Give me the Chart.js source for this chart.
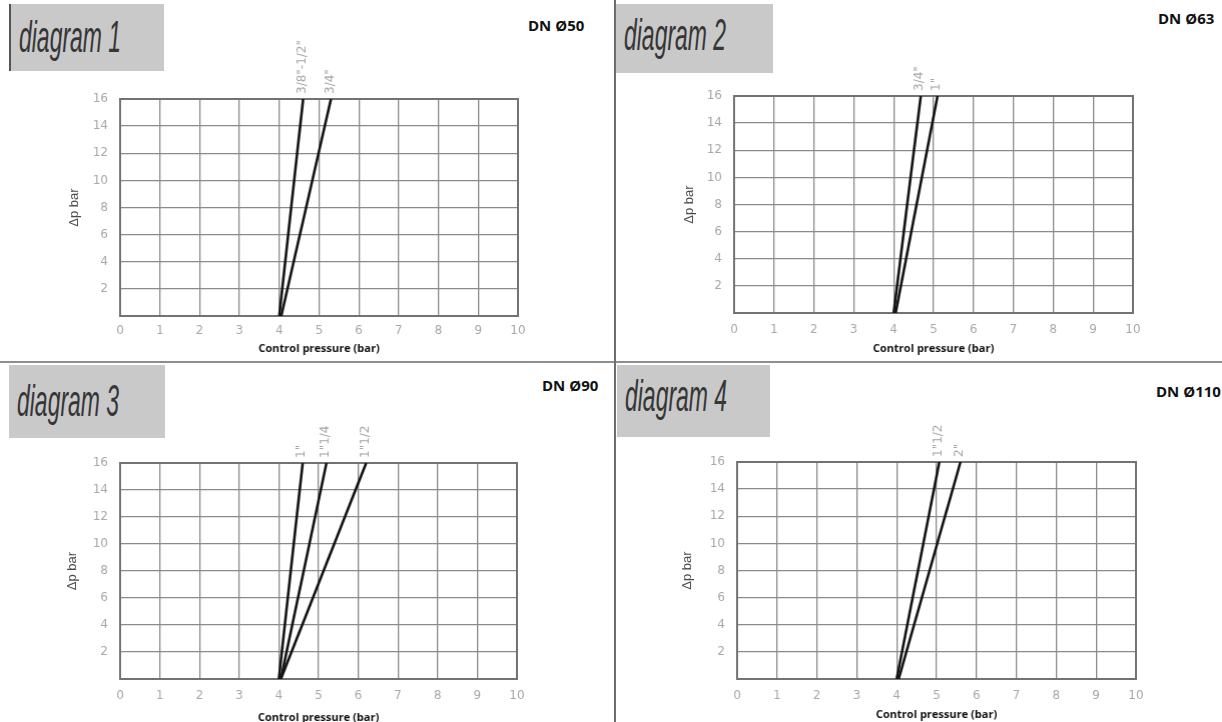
<!DOCTYPE html>
<html>
<head>
<meta charset="utf-8">
<script src="https://cdn.jsdelivr.net/npm/chart.js@4.4.0/dist/chart.umd.min.js"></script>
<style>
  body { margin: 0; width: 1222px; height: 722px; background: #fff; position: relative; overflow: hidden; }
  .box { position: absolute; background: #c9c9c9; overflow: hidden; }
  .box span { position: absolute; left: 8px; font: italic 45px/44px "Liberation Sans", sans-serif; color: #363636;
              transform: scaleX(0.51); transform-origin: left top; white-space: nowrap; }
  .dn { position: absolute; font: bold 15px/20px "Open Sans", sans-serif; color: #111; white-space: nowrap; }
  .plot { position: absolute; }
  .vline { position: absolute; left: 614px; top: 0; width: 2px; height: 722px; background: #6e6e6e; }
  .hline { position: absolute; left: 0; top: 361px; width: 1222px; height: 2px; background: #8e8e8e; }
</style>
</head>
<body>
<div class="hline"></div>
<div class="vline"></div>

<div class="box" style="left:9px;top:4px;width:153px;height:67px;border-left:2px solid #555"><span style="top:11px">diagram 1</span></div>
<div class="box" style="left:616px;top:4px;width:157px;height:69px"><span style="top:9px">diagram 2</span></div>
<div class="box" style="left:9px;top:365px;width:156px;height:73px"><span style="top:14px">diagram 3</span></div>
<div class="box" style="left:617px;top:365px;width:153px;height:72px"><span style="top:9px">diagram 4</span></div>

<div class="dn" style="left:528px;top:15px">DN Ø50</div>
<div class="dn" style="left:1158px;top:8px">DN Ø63</div>
<div class="dn" style="left:542px;top:375px">DN Ø90</div>
<div class="dn" style="left:1156px;top:381px">DN Ø110</div>

<div class="plot" id="p1"><canvas id="c1"></canvas></div>
<div class="plot" id="p2"><canvas id="c2"></canvas></div>
<div class="plot" id="p3"><canvas id="c3"></canvas></div>
<div class="plot" id="p4"><canvas id="c4"></canvas></div>

<script>
// axes
const xTicks = [0, 1, 2, 3, 4, 5, 6, 7, 8, 9, 10];
const yTicks = [2, 4, 6, 8, 10, 12, 14, 16];
const dpMin = 0;
const dpMax = 16;

// diagram 1 - DN 50
const d1Labels = ['3/8"-1/2"', '3/4"'];
const d1Start = [4.0, 4.05];
const d1End = [4.6, 5.3];

// diagram 2 - DN 63
const d2Labels = ['3/4"', '1"'];
const d2Start = [4.0, 4.05];
const d2End = [4.68, 5.1];

// diagram 3 - DN 90
const d3Labels = ['1"', '1"1/4', '1"1/2'];
const d3Start = [4.0, 4.05, 4.05];
const d3End = [4.6, 5.2, 6.2];

// diagram 4 - DN 110
const d4Labels = ['1"1/2', '2"'];
const d4Start = [4.0, 4.05];
const d4End = [5.07, 5.6];

// plot area in page pixels: left, top, right, bottom
const layoutBoxes = [
  { id: 'c1', area: [120, 99, 517, 316], yW: 53, xH: 39, xPad: 8, labels: d1Labels, start: d1Start, end: d1End },
  { id: 'c2', area: [734, 96, 1132, 313], yW: 52, xH: 42, xPad: 10, labels: d2Labels, start: d2Start, end: d2End },
  { id: 'c3', area: [120, 463, 516, 679], yW: 55, xH: 45, xPad: 10, labels: d3Labels, start: d3Start, end: d3End },
  { id: 'c4', area: [737, 462, 1135, 679], yW: 57, xH: 42, xPad: 10, labels: d4Labels, start: d4Start, end: d4End }
];

const PAD_TOP = 80, PAD_RIGHT = 14;

const frame = {
  id: 'frame',
  beforeDatasetsDraw(chart) {
    const a = chart.chartArea;
    const ctx = chart.ctx;
    ctx.save();
    ctx.strokeStyle = '#727272';
    ctx.lineWidth = 2;
    ctx.strokeRect(a.left, a.top, a.right - a.left, a.bottom - a.top);
    ctx.restore();
  }
};

const lineLabels = {
  id: 'lineLabels',
  afterDatasetsDraw(chart) {
    const { ctx, chartArea, scales } = chart;
    ctx.save();
    ctx.fillStyle = '#a4a4a4';
    ctx.font = '12px "DejaVu Sans"';
    ctx.textAlign = 'left';
    ctx.textBaseline = 'middle';
    chart.data.datasets.forEach(ds => {
      const last = ds.data[ds.data.length - 1];
      const x = scales.x.getPixelForValue(last.x);
      ctx.save();
      ctx.translate(x - 1, chartArea.top - 5);
      ctx.rotate(-Math.PI / 2);
      ctx.fillText(ds.label, 0, 0);
      ctx.restore();
    });
    ctx.restore();
  }
};

layoutBoxes.forEach(p => {
  const [l, t, r, b] = p.area;
  const wrap = document.getElementById(p.id).parentNode;
  let w = r - l + p.yW + PAD_RIGHT;
  let h = b - t + PAD_TOP + p.xH;
  wrap.style.left = (l - p.yW) + 'px';
  wrap.style.top = (t - PAD_TOP) + 'px';
  wrap.style.width = w + 'px';
  wrap.style.height = h + 'px';

  const datasets = p.labels.map((lab, i) => ({
    label: lab,
    data: [{ x: p.start[i], y: dpMin }, { x: p.end[i], y: dpMax }],
    borderColor: '#141414',
    borderWidth: 2.6,
    pointRadius: 0,
    fill: false
  }));

  const chart = new Chart(document.getElementById(p.id), {
    type: 'line',
    data: { datasets },
    options: {
      responsive: true,
      maintainAspectRatio: false,
      animation: false,
      layout: { padding: { top: PAD_TOP, right: PAD_RIGHT, left: 0, bottom: 0 } },
      plugins: { legend: { display: false }, tooltip: { enabled: false } },
      scales: {
        x: {
          type: 'linear',
          min: xTicks[0],
          max: xTicks[xTicks.length - 1],
          afterBuildTicks: s => { s.ticks = xTicks.map(v => ({ value: v })); },
          afterFit: s => { s.height = p.xH; },
          grid: { color: '#8a8a8a', lineWidth: 1.3, drawTicks: false },
          border: { display: false },
          ticks: { color: '#a8a8a8', padding: p.xPad, font: { family: 'DejaVu Sans', size: 12 }, maxRotation: 0, autoSkip: false },
          title: { display: true, text: 'Control pressure (bar)', color: '#111',
                   font: { family: 'Open Sans', size: 11, weight: 'bold' }, padding: { top: 0, bottom: 0 } }
        },
        y: {
          type: 'linear',
          min: dpMin,
          max: dpMax,
          afterBuildTicks: s => { s.ticks = yTicks.map(v => ({ value: v })); },
          afterFit: s => { s.width = p.yW; },
          grid: { color: '#8a8a8a', lineWidth: 1.3, drawTicks: false },
          border: { display: false },
          ticks: { color: '#a8a8a8', padding: 12, font: { family: 'DejaVu Sans', size: 12 } },
          title: { display: true, text: 'Δp bar', color: '#4a4a4a',
                   font: { family: 'Liberation Sans', size: 13 }, padding: { top: 0, bottom: 0 } }
        }
      }
    },
    plugins: [frame, lineLabels]
  });

  // nudge the container so the plot area lands on the reference position
  const ca = chart.chartArea;
  w += (r - l) - (ca.right - ca.left);
  h += (b - t) - (ca.bottom - ca.top);
  wrap.style.width = w + 'px';
  wrap.style.height = h + 'px';
  chart.resize();
  const ca2 = chart.chartArea;
  wrap.style.left = (l - ca2.left) + 'px';
  wrap.style.top = (t - ca2.top) + 'px';
});
</script>
</body>
</html>
